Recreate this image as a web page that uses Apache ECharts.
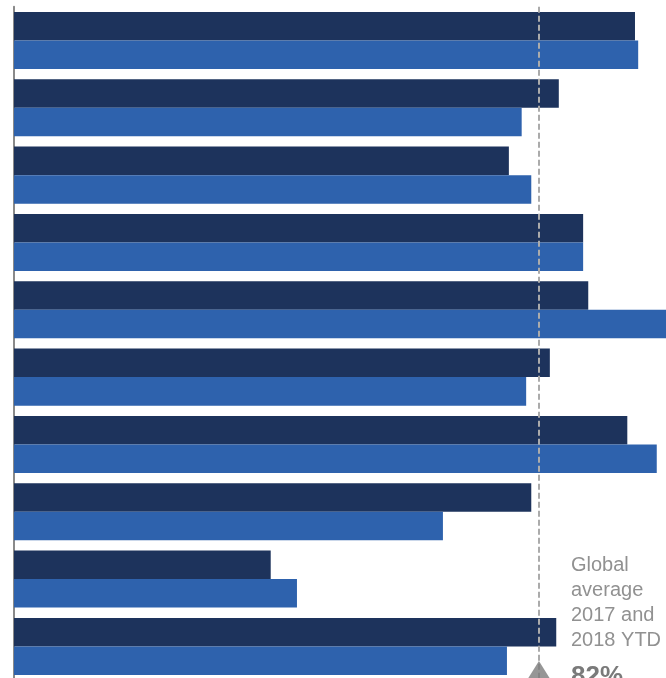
<!DOCTYPE html>
<html>
<head>
<meta charset="utf-8">
<style>
  html, body { margin: 0; padding: 0; background: #ffffff; overflow: hidden; }
  #chart { width: 670px; height: 684px; }
</style>
<script src="https://cdn.jsdelivr.net/npm/echarts@6/dist/echarts.min.js"></script>
</head>
<body>
<div id="chart"></div>
<script>
// Rows, top to bottom
const categories = ['A', 'B', 'C', 'D', 'E', 'F', 'G', 'H', 'I', 'J'];
// Share (%) per row
const values2017 = [97.0, 85.1, 77.3, 88.9, 89.7, 83.7, 95.8, 80.8, 40.1, 84.7];
const values2018 = [97.5, 79.3, 80.8, 88.9, 102.0, 80.0, 100.4, 67.0, 44.2, 77.0];
// Global average reference
const globalAverage = 82;
const averageLabel = 'Global\naverage\n2017 and\n2018 YTD';
const averageValue = '82%';

const NAVY = '#1d335c';
const BLUE = '#2e62ad';
const GREY = '#919191';

const chart = echarts.init(document.getElementById('chart'), null, { renderer: 'canvas' });

chart.setOption({
  animation: false,
  backgroundColor: '#ffffff',
  grid: { left: 14, top: 6.8, width: 653, height: 673.3, containLabel: false },
  xAxis: {
    type: 'value',
    min: 0,
    max: 102,
    show: false
  },
  yAxis: {
    type: 'category',
    data: categories,
    inverse: true,
    axisLine: { show: true, lineStyle: { color: '#8a8a8a', width: 2 } },
    axisTick: { show: false },
    axisLabel: { show: false },
    splitLine: { show: false }
  },
  series: [
    {
      name: '2017',
      type: 'bar',
      data: values2017,
      barGap: '0%',
      barCategoryGap: '15.3%',
      clip: false,
      itemStyle: { color: NAVY },
      z: 2
    },
    {
      name: '2018 YTD',
      type: 'bar',
      data: values2018,
      barGap: '0%',
      barCategoryGap: '15.3%',
      clip: false,
      itemStyle: { color: BLUE },
      z: 2,
      markLine: {
        silent: true,
        symbol: ['none', 'none'],
        label: { show: false },
        lineStyle: { color: '#ababab', type: [6, 3], width: 2 },
        data: [{ xAxis: globalAverage }],
        z: 5
      }
    },
    {
      // marker under the average line
      name: 'average marker',
      type: 'scatter',
      data: [[globalAverage, categories[categories.length - 1]]],
      symbol: 'triangle',
      symbolSize: [25, 20],
      symbolOffset: [0, 24.5],
      clip: false,
      silent: true,
      itemStyle: { color: '#7c7c7c' },
      z: 6
    }
  ],
  graphic: [
    {
      type: 'text',
      left: 571,
      top: 553,
      z: 10,
      style: {
        text: averageLabel,
        font: '20px "Liberation Sans", Arial, sans-serif',
        lineHeight: 25,
        fill: GREY
      }
    },
    {
      type: 'text',
      left: 571,
      top: 664,
      z: 10,
      style: {
        text: averageValue,
        font: 'bold 26px "Liberation Sans", Arial, sans-serif',
        fill: '#7a7a7a'
      }
    }
  ]
});
</script>
</body>
</html>
